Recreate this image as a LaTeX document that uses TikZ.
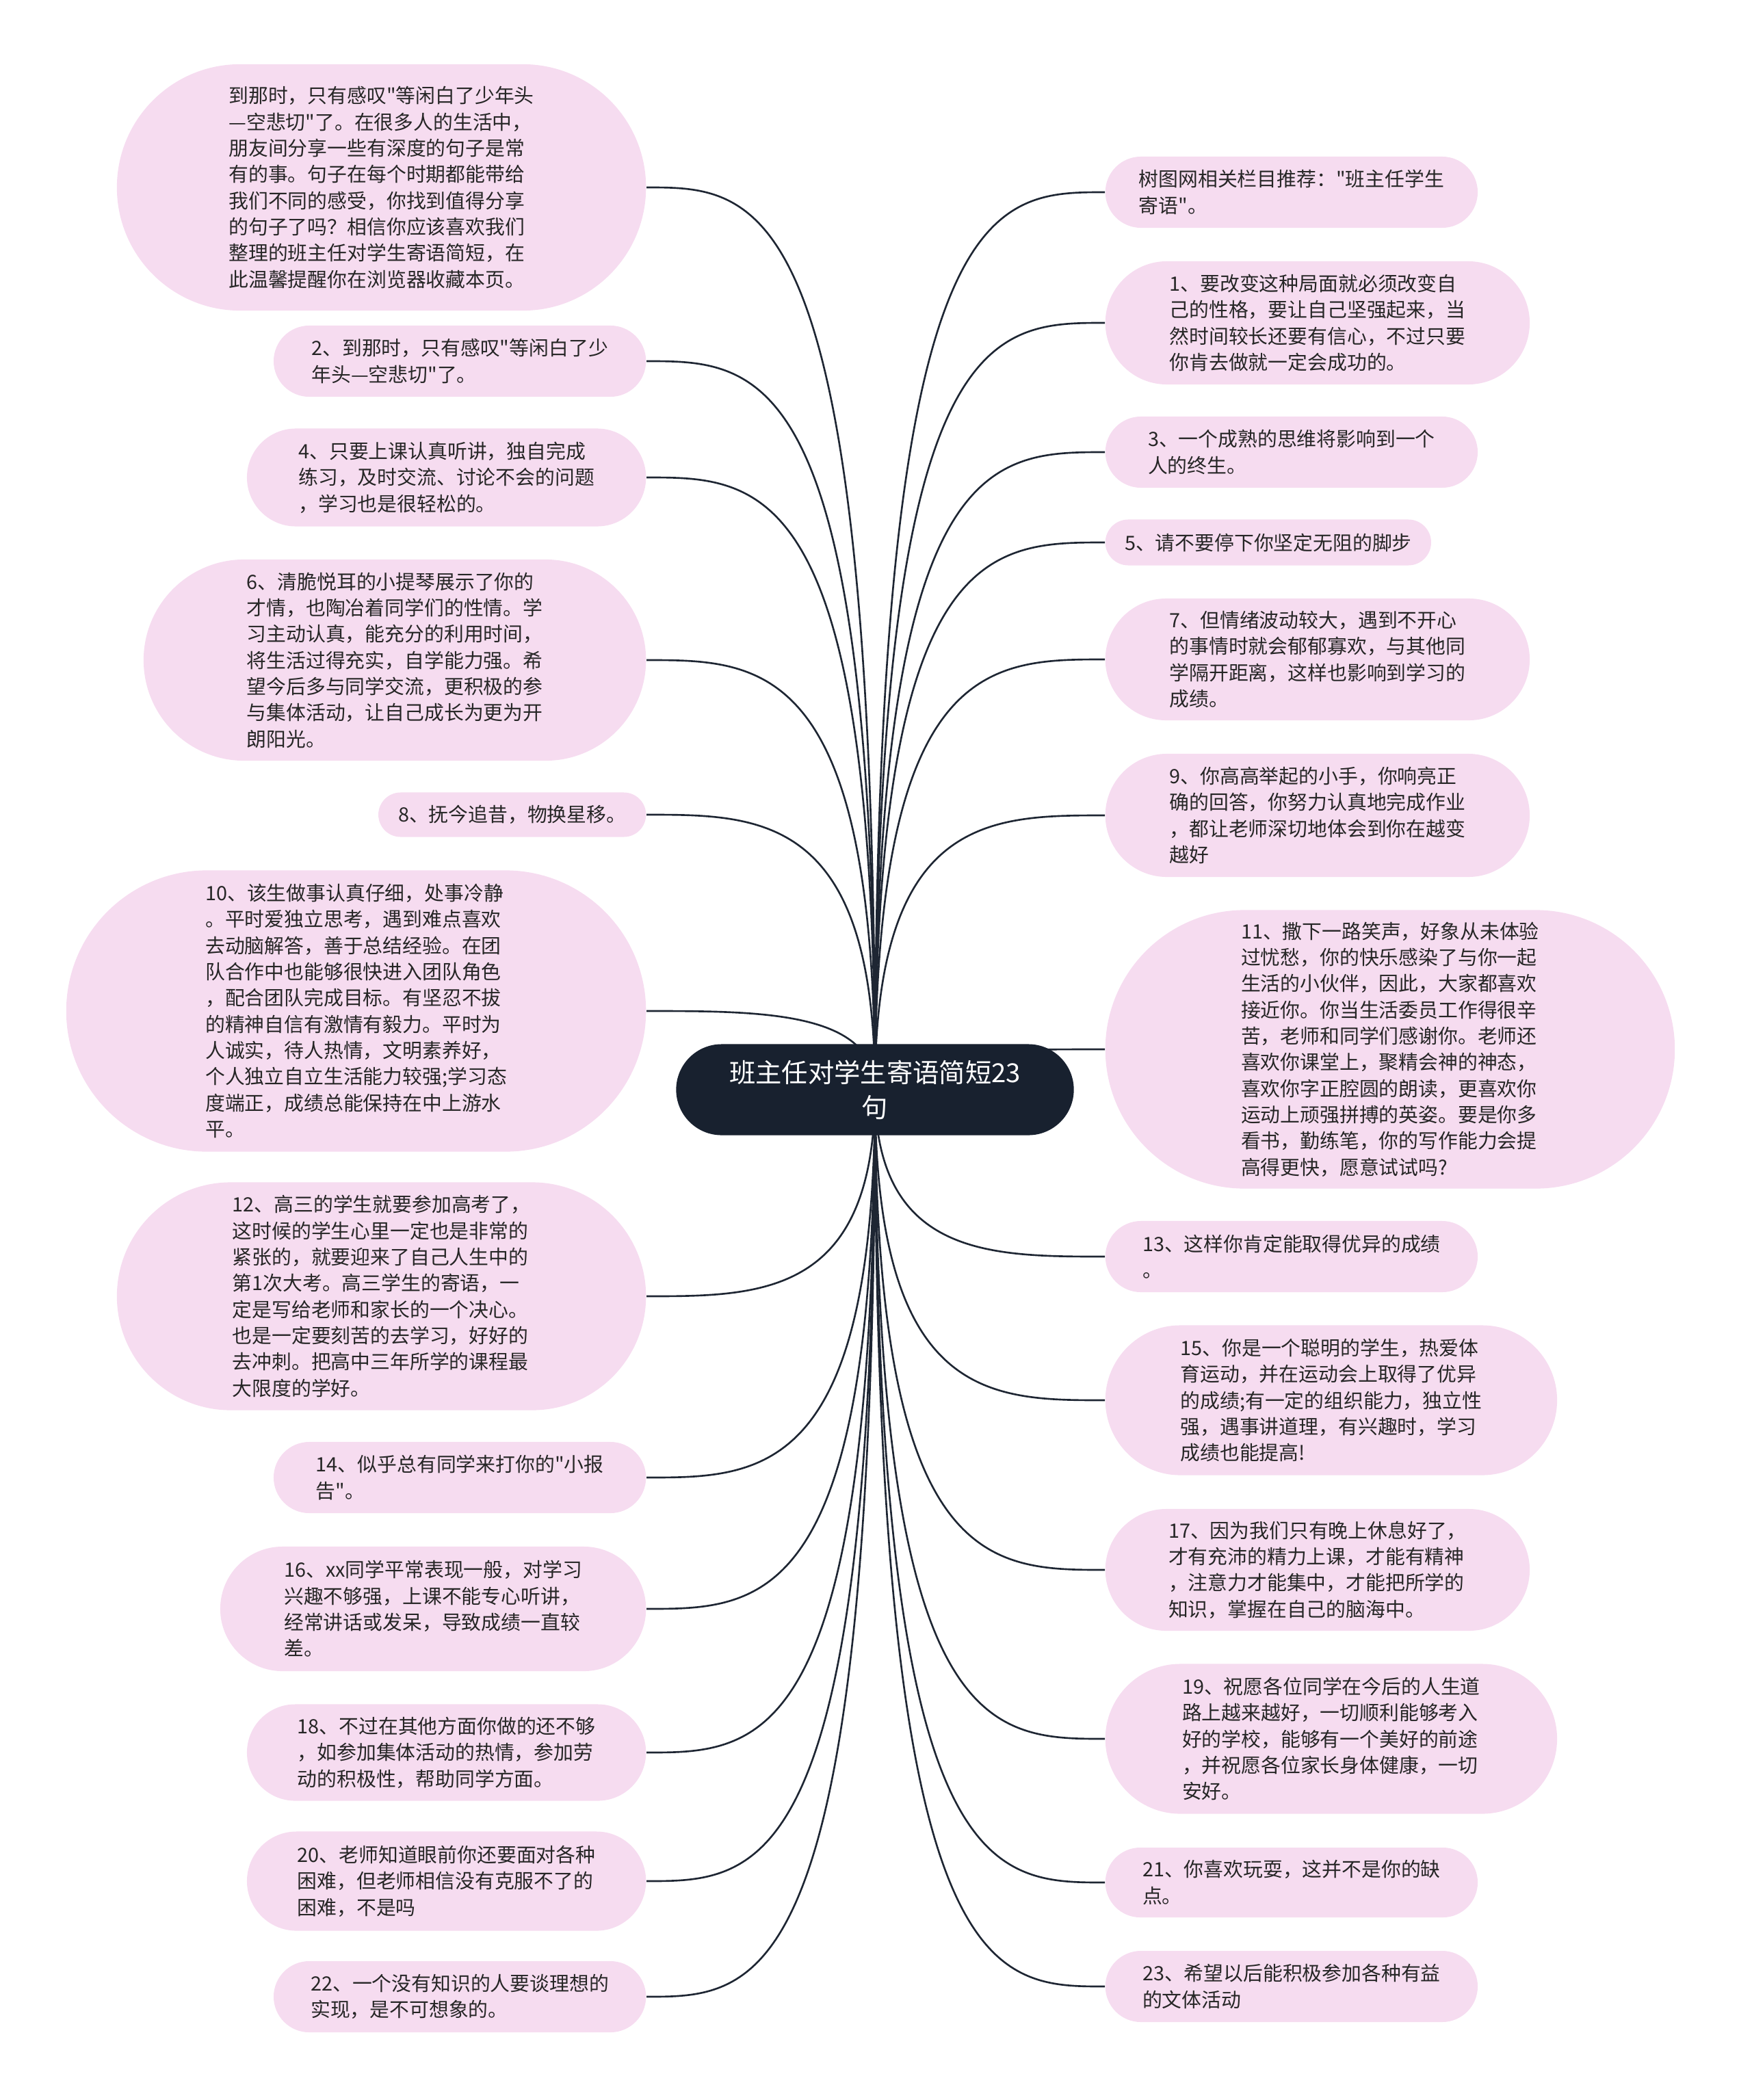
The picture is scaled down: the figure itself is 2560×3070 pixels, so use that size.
\documentclass[tikz,border=0pt]{standalone}
\usepackage{fontspec}
\setmainfont{Noto Sans CJK SC}[Ligatures=TeXOff]
\usepackage{tikz}
\usetikzlibrary{shapes.misc,calc,backgrounds}
\definecolor{MapPink}{HTML}{F6DCF0}
\definecolor{MapNavy}{HTML}{18212F}
\definecolor{MapLine}{HTML}{1E2633}

\begin{document}
\begin{tikzpicture}[x=0.01cm, y=-0.01cm,
  leaf/.style 2 args={rounded rectangle, fill=MapPink, inner sep=0pt, align=left, text=black!85, font=\fontsize{8.2pt}{10.9pt}\selectfont, minimum width=#1, minimum height=#2},
  hub/.style={rounded rectangle, fill=MapNavy, text=white, inner sep=0pt, align=center, font=\fontsize{10.9pt}{14.5pt}\selectfont, minimum width=5.81cm, minimum height=1.33cm},
  branch/.style={draw=MapLine, line width=0.75pt}]
  \useasboundingbox (0,0) rectangle (2560,3070);
  \node[hub] (hub) at (1279,1593) {班主任对学生寄语简短23\\句};
  % left side
  \node[leaf={7.73cm}{3.60cm}, anchor=east] (l0) at (945,274) {到那时，只有感叹"等闲白了少年头\\—空悲切"了。在很多人的生活中，\\朋友间分享一些有深度的句子是常\\有的事。句子在每个时期都能带给\\我们不同的感受，你找到值得分享\\的句子了吗？相信你应该喜欢我们\\整理的班主任对学生寄语简短，在\\此温馨提醒你在浏览器收藏本页。};
  \node[leaf={5.44cm}{1.04cm}, anchor=east] (l1) at (945,528) {2、到那时，只有感叹"等闲白了少\\年头—空悲切"了。};
  \node[leaf={5.83cm}{1.43cm}, anchor=east] (l2) at (945,698) {4、只要上课认真听讲，独自完成\\练习，及时交流、讨论不会的问题\\，学习也是很轻松的。};
  \node[leaf={7.34cm}{2.94cm}, anchor=east] (l3) at (945,965) {6、清脆悦耳的小提琴展示了你的\\才情，也陶冶着同学们的性情。学\\习主动认真，能充分的利用时间，\\将生活过得充实，自学能力强。希\\望今后多与同学交流，更积极的参\\与集体活动，让自己成长为更为开\\朗阳光。};
  \node[leaf={3.91cm}{0.65cm}, anchor=east] (l4) at (945,1191) {8、抚今追昔，物换星移。};
  \node[leaf={8.47cm}{4.11cm}, anchor=east] (l5) at (945,1478) {10、该生做事认真仔细，处事冷静\\。平时爱独立思考，遇到难点喜欢\\去动脑解答，善于总结经验。在团\\队合作中也能够很快进入团队角色\\，配合团队完成目标。有坚忍不拔\\的精神自信有激情有毅力。平时为\\人诚实，待人热情，文明素养好，\\个人独立自立生活能力较强;学习态\\度端正，成绩总能保持在中上游水\\平。};
  \node[leaf={7.73cm}{3.33cm}, anchor=east] (l6) at (945,1895) {12、高三的学生就要参加高考了，\\这时候的学生心里一定也是非常的\\紧张的，就要迎来了自己人生中的\\第1次大考。高三学生的寄语，一\\定是写给老师和家长的一个决心。\\也是一定要刻苦的去学习，好好的\\去冲刺。把高中三年所学的课程最\\大限度的学好。};
  \node[leaf={5.44cm}{1.04cm}, anchor=east] (l7) at (945,2160) {14、似乎总有同学来打你的"小报\\告"。};
  \node[leaf={6.22cm}{1.82cm}, anchor=east] (l8) at (945,2352) {16、xx同学平常表现一般，对学习\\兴趣不够强，上课不能专心听讲，\\经常讲话或发呆，导致成绩一直较\\差。};
  \node[leaf={5.83cm}{1.41cm}, anchor=east] (l9) at (945,2562) {18、不过在其他方面你做的还不够\\，如参加集体活动的热情，参加劳\\动的积极性，帮助同学方面。};
  \node[leaf={5.83cm}{1.45cm}, anchor=east] (l10) at (945,2750) {20、老师知道眼前你还要面对各种\\困难，但老师相信没有克服不了的\\困难，不是吗};
  \node[leaf={5.44cm}{1.04cm}, anchor=east] (l11) at (945,2919) {22、一个没有知识的人要谈理想的\\实现，是不可想象的。};
  % right side
  \node[leaf={5.44cm}{1.04cm}, anchor=west] (r0) at (1615,281) {树图网相关栏目推荐："班主任学生\\寄语"。};
  \node[leaf={6.20cm}{1.80cm}, anchor=west] (r1) at (1615,472) {1、要改变这种局面就必须改变自\\己的性格，要让自己坚强起来，当\\然时间较长还要有信心，不过只要\\你肯去做就一定会成功的。};
  \node[leaf={5.44cm}{1.04cm}, anchor=west] (r2) at (1615,661) {3、一个成熟的思维将影响到一个\\人的终生。};
  \node[leaf={4.76cm}{0.67cm}, anchor=west] (r3) at (1615,793) {5、请不要停下你坚定无阻的脚步};
  \node[leaf={6.20cm}{1.78cm}, anchor=west] (r4) at (1615,964) {7、但情绪波动较大，遇到不开心\\的事情时就会郁郁寡欢，与其他同\\学隔开距离，这样也影响到学习的\\成绩。};
  \node[leaf={6.20cm}{1.80cm}, anchor=west] (r5) at (1615,1192) {9、你高高举起的小手，你响亮正\\确的回答，你努力认真地完成作业\\，都让老师深切地体会到你在越变\\越好};
  \node[leaf={8.32cm}{4.07cm}, anchor=west] (r6) at (1615,1534) {11、撒下一路笑声，好象从未体验\\过忧愁，你的快乐感染了与你一起\\生活的小伙伴，因此，大家都喜欢\\接近你。你当生活委员工作得很辛\\苦，老师和同学们感谢你。老师还\\喜欢你课堂上，聚精会神的神态，\\喜欢你字正腔圆的朗读，更喜欢你\\运动上顽强拼搏的英姿。要是你多\\看书，勤练笔，你的写作能力会提\\高得更快，愿意试试吗?};
  \node[leaf={5.44cm}{1.04cm}, anchor=west] (r7) at (1615,1837) {13、这样你肯定能取得优异的成绩\\。};
  \node[leaf={6.60cm}{2.19cm}, anchor=west] (r8) at (1615,2047) {15、你是一个聪明的学生，热爱体\\育运动，并在运动会上取得了优异\\的成绩;有一定的组织能力，独立性\\强，遇事讲道理，有兴趣时，学习\\成绩也能提高!};
  \node[leaf={6.20cm}{1.78cm}, anchor=west] (r9) at (1615,2295) {17、因为我们只有晚上休息好了，\\才有充沛的精力上课，才能有精神\\，注意力才能集中，才能把所学的\\知识，掌握在自己的脑海中。};
  \node[leaf={6.60cm}{2.19cm}, anchor=west] (r10) at (1615,2542) {19、祝愿各位同学在今后的人生道\\路上越来越好，一切顺利能够考入\\好的学校，能够有一个美好的前途\\，并祝愿各位家长身体健康，一切\\安好。};
  \node[leaf={5.44cm}{1.02cm}, anchor=west] (r11) at (1615,2752) {21、你喜欢玩耍，这并不是你的缺\\点。};
  \node[leaf={5.44cm}{1.04cm}, anchor=west] (r12) at (1615,2904) {23、希望以后能积极参加各种有益\\的文体活动};
  % branches behind the boxes
  \begin{scope}[on background layer]
    \foreach \n in {l0,l1,l2,l3,l4,l5,l6,l7,l8,l9,l10,l11}
      \draw[branch] (hub.center) .. controls (hub.center |- \n.east) and ($(hub.center |- \n.east)!0.5!(\n.east)$) .. (\n.east);
    \foreach \n in {r0,r1,r2,r3,r4,r5,r6,r7,r8,r9,r10,r11,r12}
      \draw[branch] (hub.center) .. controls (hub.center |- \n.west) and ($(hub.center |- \n.west)!0.5!(\n.west)$) .. (\n.west);
  \end{scope}
\end{tikzpicture}
\end{document}
